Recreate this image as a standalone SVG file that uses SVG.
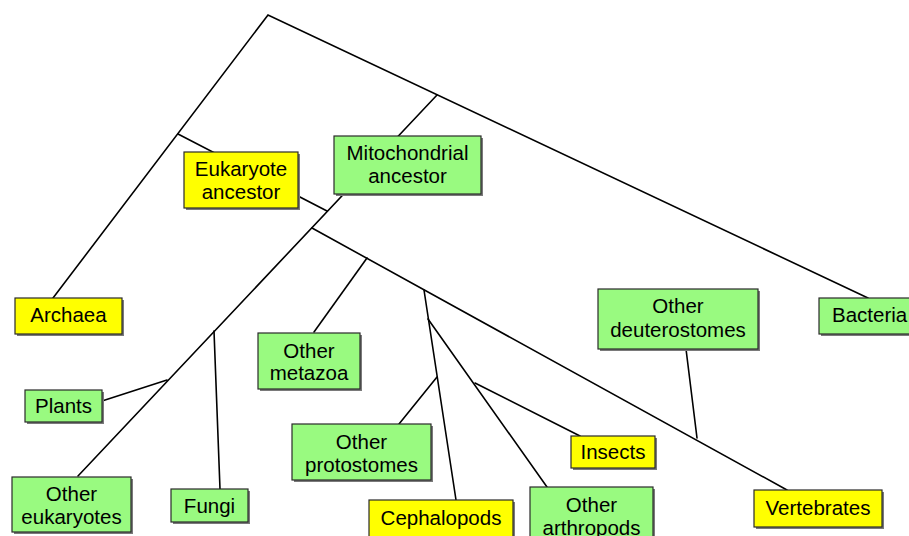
<svg xmlns="http://www.w3.org/2000/svg" width="909" height="536" viewBox="0 0 909 536">
<style>
.ln{stroke:#000;stroke-width:1.6;fill:none;stroke-linecap:round}
.sh{fill:#7a7a7a}
.y{fill:#ffff00;stroke:#2a2a2a;stroke-width:1.2}
.g{fill:#99fa80;stroke:#2a2a2a;stroke-width:1.2}
text{font-family:"Liberation Sans",Arial,sans-serif;font-size:20.5px;fill:#000;text-anchor:middle}
</style>
<rect width="909" height="536" fill="#fff"/>
<g id="connectors">
<polyline class="ln" points="53,298 268,15 868,298"/>
<line class="ln" x1="178" y1="134" x2="327" y2="211"/>
<line class="ln" x1="437" y1="95" x2="78" y2="476"/>
<line class="ln" x1="312" y1="228" x2="787" y2="490"/>
<line class="ln" x1="367" y1="258" x2="314" y2="332"/>
<line class="ln" x1="424" y1="290" x2="456" y2="500"/>
<line class="ln" x1="428" y1="319" x2="547" y2="487"/>
<line class="ln" x1="475" y1="383" x2="580" y2="436"/>
<line class="ln" x1="437" y1="377" x2="399" y2="424"/>
<line class="ln" x1="214" y1="331" x2="220" y2="489"/>
<line class="ln" x1="167" y1="380" x2="102" y2="401"/>
<line class="ln" x1="697" y1="438" x2="686" y2="349"/>
</g>
<g id="eukaryote-ancestor"><rect class="sh" x="186" y="154" width="114" height="56"/><rect class="y" x="184" y="152" width="114" height="56"/><text x="241" y="176">Eukaryote</text><text x="241" y="199">ancestor</text></g>
<g id="mitochondrial-ancestor"><rect class="sh" x="336" y="138" width="147" height="58"/><rect class="g" x="334" y="136" width="147" height="58"/><text x="407.5" y="160">Mitochondrial</text><text x="407.5" y="183">ancestor</text></g>
<g id="archaea"><rect class="sh" x="17" y="300" width="107" height="36"/><rect class="y" x="15" y="298" width="107" height="36"/><text x="68.5" y="322">Archaea</text></g>
<g id="bacteria"><rect class="sh" x="821" y="300" width="100" height="36"/><rect class="g" x="819" y="298" width="100" height="36"/><text x="832" y="322" style="text-anchor:start">Bacteria</text></g>
<g id="plants"><rect class="sh" x="27" y="392" width="77" height="32"/><rect class="g" x="25" y="390" width="77" height="32"/><text x="63.5" y="413">Plants</text></g>
<g id="other-eukaryotes"><rect class="sh" x="14" y="479" width="119" height="55"/><rect class="g" x="12" y="477" width="119" height="55"/><text x="71.5" y="501">Other</text><text x="71.5" y="524">eukaryotes</text></g>
<g id="fungi"><rect class="sh" x="173" y="491" width="77" height="33"/><rect class="g" x="171" y="489" width="77" height="33"/><text x="209.5" y="513">Fungi</text></g>
<g id="other-metazoa"><rect class="sh" x="260" y="335" width="102" height="56"/><rect class="g" x="258" y="333" width="102" height="56"/><text x="309" y="358">Other</text><text x="309" y="380">metazoa</text></g>
<g id="other-protostomes"><rect class="sh" x="294" y="426" width="139" height="56"/><rect class="g" x="292" y="424" width="139" height="56"/><text x="361.5" y="449">Other</text><text x="361.5" y="472">protostomes</text></g>
<g id="cephalopods"><rect class="sh" x="371" y="502" width="144" height="40"/><rect class="y" x="369" y="500" width="144" height="40"/><text x="441" y="525">Cephalopods</text></g>
<g id="other-arthropods"><rect class="sh" x="532" y="489" width="123" height="56"/><rect class="g" x="530" y="487" width="123" height="56"/><text x="591.5" y="512">Other</text><text x="591.5" y="535">arthropods</text></g>
<g id="insects"><rect class="sh" x="573" y="438" width="84" height="32"/><rect class="y" x="571" y="436" width="84" height="32"/><text x="613" y="459">Insects</text></g>
<g id="vertebrates"><rect class="sh" x="756" y="492" width="128" height="37"/><rect class="y" x="754" y="490" width="128" height="37"/><text x="818" y="515">Vertebrates</text></g>
<g id="other-deuterostomes"><rect class="sh" x="600" y="291" width="160" height="60"/><rect class="g" x="598" y="289" width="160" height="60"/><text x="678" y="313">Other</text><text x="678" y="337">deuterostomes</text></g>
</svg>
